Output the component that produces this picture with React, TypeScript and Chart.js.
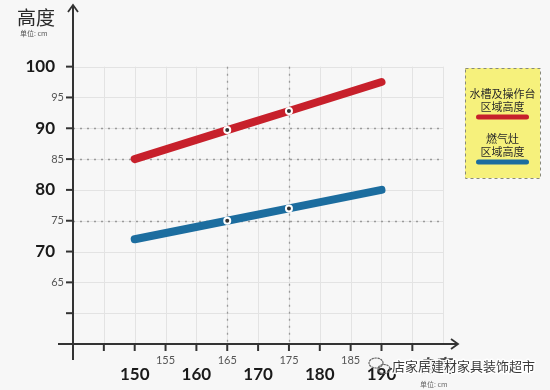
import React, { useEffect, useRef } from "react";
import { Chart, registerables } from "chart.js";

Chart.register(...registerables);

const heights = [150, 165, 175, 190];
const sinkHeights = [85, 89.7, 92.8, 97.5];
const stoveHeights = [72, 75, 77, 80];
const markerRadius = [0, 3, 3, 0];

const yMajorTicks = [70, 80, 90, 100];
const yMinorTicks = [65, 75, 85, 95];
const yTickMarks = [60, 65, 70, 75, 80, 85, 90, 95, 100];
const xMajorTicks = [150, 160, 170, 180, 190];
const xMinorTicks = [155, 165, 175, 185];
const xTickMarks = [145, 150, 155, 160, 165, 170, 175, 180, 185, 190, 195];
const dottedY = [90, 85, 75];
const dottedX = [165, 175];

const yTitle = "高度";
const unitText = "单位: cm";
const xTitle = "身高";
const sinkLabel = ["水槽及操作台", "区域高度"];
const stoveLabel = ["燃气灶", "区域高度"];
const watermark = "店家居建材家具装饰超市";

const RED = "#c7202b";
const BLUE = "#1c6d9f";
const NUM_FONT = "Lato, 'Open Sans', sans-serif";
const CJK_FONT = "'Noto Sans CJK SC', sans-serif";

const X_MIN = 140;
const X_MAX = 202.4;
const Y_MIN = 55;
const Y_MAX = 110;
const GRID_X_END = 200;
const GRID_Y_END = 100;

const decorPlugin = {
  id: "decor",
  beforeDatasetsDraw(chart: any) {
    const ctx = chart.ctx;
    const xs = chart.scales.x;
    const ys = chart.scales.y;
    const px = (v: number) => xs.getPixelForValue(v);
    const py = (v: number) => ys.getPixelForValue(v);
    const x0 = px(X_MIN);
    const y0 = py(Y_MIN);
    ctx.save();
    // grid
    ctx.strokeStyle = "#e3e3e3";
    ctx.lineWidth = 1;
    for (let v = 145; v <= GRID_X_END; v += 5) {
      ctx.beginPath();
      ctx.moveTo(Math.round(px(v)) + 0.5, py(GRID_Y_END));
      ctx.lineTo(Math.round(px(v)) + 0.5, y0);
      ctx.stroke();
    }
    for (let v = 60; v <= GRID_Y_END; v += 5) {
      ctx.beginPath();
      ctx.moveTo(x0, Math.round(py(v)) + 0.5);
      ctx.lineTo(px(GRID_X_END), Math.round(py(v)) + 0.5);
      ctx.stroke();
    }
    // dotted guides
    ctx.strokeStyle = "#9a9a9a";
    ctx.lineWidth = 1.3;
    ctx.setLineDash([2, 5]);
    dottedY.forEach((v) => {
      ctx.beginPath();
      ctx.moveTo(x0, Math.round(py(v)) + 0.5);
      ctx.lineTo(px(GRID_X_END), Math.round(py(v)) + 0.5);
      ctx.stroke();
    });
    dottedX.forEach((v) => {
      ctx.beginPath();
      ctx.moveTo(Math.round(px(v)) + 0.5, py(GRID_Y_END));
      ctx.lineTo(Math.round(px(v)) + 0.5, y0);
      ctx.stroke();
    });
    ctx.setLineDash([]);
    // axes
    ctx.strokeStyle = "#333";
    ctx.lineWidth = 2;
    ctx.beginPath();
    ctx.moveTo(x0, y0 + 16);
    ctx.lineTo(x0, py(Y_MAX));
    ctx.stroke();
    ctx.beginPath();
    ctx.moveTo(x0 - 15, y0);
    ctx.lineTo(px(X_MAX), y0);
    ctx.stroke();
    // arrows
    ctx.lineWidth = 1.8;
    ctx.beginPath();
    ctx.moveTo(x0 - 5, py(Y_MAX) + 7);
    ctx.lineTo(x0, py(Y_MAX));
    ctx.lineTo(x0 + 5, py(Y_MAX) + 7);
    ctx.stroke();
    ctx.beginPath();
    ctx.moveTo(px(X_MAX) - 7, y0 - 5);
    ctx.lineTo(px(X_MAX), y0);
    ctx.lineTo(px(X_MAX) - 7, y0 + 5);
    ctx.stroke();
    // tick marks
    ctx.lineWidth = 2;
    yTickMarks.forEach((v) => {
      ctx.beginPath();
      ctx.moveTo(x0 - 7, py(v));
      ctx.lineTo(x0, py(v));
      ctx.stroke();
    });
    xTickMarks.forEach((v) => {
      ctx.beginPath();
      ctx.moveTo(px(v), y0);
      ctx.lineTo(px(v), y0 + 7);
      ctx.stroke();
    });
    ctx.restore();
  },
  afterDraw(chart: any) {
    const ctx = chart.ctx;
    const xs = chart.scales.x;
    const ys = chart.scales.y;
    const px = (v: number) => xs.getPixelForValue(v);
    const py = (v: number) => ys.getPixelForValue(v);
    const x0 = px(X_MIN);
    const y0 = py(Y_MIN);
    ctx.save();
    ctx.textBaseline = "middle";
    // y labels
    ctx.textAlign = "right";
    ctx.fillStyle = "#1a1a1a";
    ctx.font = `bold 17px ${NUM_FONT}`;
    yMajorTicks.forEach((v) => ctx.fillText(String(v), x0 - 18, py(v)));
    ctx.fillStyle = "#555";
    ctx.font = `11px ${NUM_FONT}`;
    yMinorTicks.forEach((v) => ctx.fillText(String(v), x0 - 9, py(v)));
    // x labels
    ctx.textAlign = "center";
    ctx.fillStyle = "#1a1a1a";
    ctx.font = `bold 17px ${NUM_FONT}`;
    xMajorTicks.forEach((v) => ctx.fillText(String(v), px(v), y0 + 31));
    ctx.fillStyle = "#555";
    ctx.font = `11px ${NUM_FONT}`;
    xMinorTicks.forEach((v) => ctx.fillText(String(v), px(v), y0 + 16));
    // titles
    ctx.textAlign = "left";
    ctx.fillStyle = "#2a2a2a";
    ctx.font = `19px ${CJK_FONT}`;
    ctx.fillText(yTitle, 17, 18);
    ctx.font = `7px ${CJK_FONT}`;
    ctx.fillStyle = "#555";
    ctx.fillText(unitText, 20, 33);
    ctx.font = `bold 17px ${CJK_FONT}`;
    ctx.fillStyle = "#444";
    ctx.fillText(xTitle, 420, 366);
    ctx.font = `7px ${CJK_FONT}`;
    ctx.fillStyle = "#666";
    ctx.fillText(unitText, 420, 384);
    // legend box
    const bx = 465, by = 68, bw = 75, bh = 110;
    ctx.fillStyle = "#f6f17c";
    ctx.fillRect(bx, by, bw, bh);
    ctx.strokeStyle = "#8a8a7a";
    ctx.lineWidth = 1;
    ctx.setLineDash([3, 3]);
    ctx.strokeRect(bx + 0.5, by + 0.5, bw, bh);
    ctx.setLineDash([]);
    ctx.textAlign = "center";
    ctx.fillStyle = "#2a2a2a";
    ctx.font = `11px ${CJK_FONT}`;
    const cx = bx + bw / 2;
    ctx.fillText(sinkLabel[0], cx, 94);
    ctx.fillText(sinkLabel[1], cx, 107);
    ctx.fillText(stoveLabel[0], cx, 139);
    ctx.fillText(stoveLabel[1], cx, 152);
    ctx.lineCap = "round";
    ctx.lineWidth = 5;
    ctx.strokeStyle = RED;
    ctx.beginPath();
    ctx.moveTo(cx - 24, 117);
    ctx.lineTo(cx + 24, 117);
    ctx.stroke();
    ctx.strokeStyle = BLUE;
    ctx.beginPath();
    ctx.moveTo(cx - 24, 162);
    ctx.lineTo(cx + 24, 162);
    ctx.stroke();
    // watermark
    ctx.textAlign = "left";
    ctx.font = `13px ${CJK_FONT}`;
    ctx.lineJoin = "round";
    ctx.strokeStyle = "rgba(255,255,255,0.95)";
    ctx.lineWidth = 3;
    ctx.strokeText(watermark, 392, 366);
    ctx.fillStyle = "#3a3a3a";
    ctx.fillText(watermark, 392, 366);
    // wechat-like icon
    ctx.strokeStyle = "#666";
    ctx.lineWidth = 1.2;
    ctx.setLineDash([1.5, 1.5]);
    ctx.beginPath();
    ctx.ellipse(376, 363, 7, 5, 0, 0, Math.PI * 2);
    ctx.stroke();
    ctx.beginPath();
    ctx.ellipse(384, 369, 6, 4.5, 0, 0, Math.PI * 2);
    ctx.stroke();
    ctx.setLineDash([]);
    ctx.restore();
  },
};

export default function App() {
  const canvasRef = useRef<HTMLCanvasElement | null>(null);

  useEffect(() => {
    const canvas = canvasRef.current;
    if (!canvas) return;
    const mk = (ys: number[]) => heights.map((x, i) => ({ x, y: ys[i] }));
    const chart = new Chart(canvas, {
      type: "line",
      data: {
        datasets: [
          {
            label: sinkLabel.join(""),
            data: mk(sinkHeights),
            borderColor: RED,
            borderWidth: 8,
            borderCapStyle: "round",
            pointRadius: markerRadius,
            pointBackgroundColor: "#333",
            pointBorderColor: "#ffffff",
            pointBorderWidth: 2,
            tension: 0,
            clip: false,
          } as any,
          {
            label: stoveLabel.join(""),
            data: mk(stoveHeights),
            borderColor: BLUE,
            borderWidth: 8,
            borderCapStyle: "round",
            pointRadius: markerRadius,
            pointBackgroundColor: "#333",
            pointBorderColor: "#ffffff",
            pointBorderWidth: 2,
            tension: 0,
            clip: false,
          } as any,
        ],
      },
      options: {
        responsive: false,
        animation: false,
        layout: { padding: { left: 73, right: 92, top: 5, bottom: 46 } },
        scales: {
          x: { type: "linear", min: X_MIN, max: X_MAX, display: false },
          y: { type: "linear", min: Y_MIN, max: Y_MAX, display: false },
        },
        plugins: {
          legend: { display: false },
          tooltip: { enabled: false },
        },
      },
      plugins: [
        {
          id: "bg",
          beforeDraw(c: any) {
            const ctx = c.ctx;
            ctx.save();
            ctx.fillStyle = "#f7f7f7";
            ctx.fillRect(0, 0, c.width, c.height);
            ctx.restore();
          },
        },
        decorPlugin,
      ],
    });
    return () => chart.destroy();
  }, []);

  return (
    <div style={{ position: "absolute", left: 0, top: 0, width: 550, height: 390 }}>
      <canvas ref={canvasRef} width={550} height={390} />
    </div>
  );
}
